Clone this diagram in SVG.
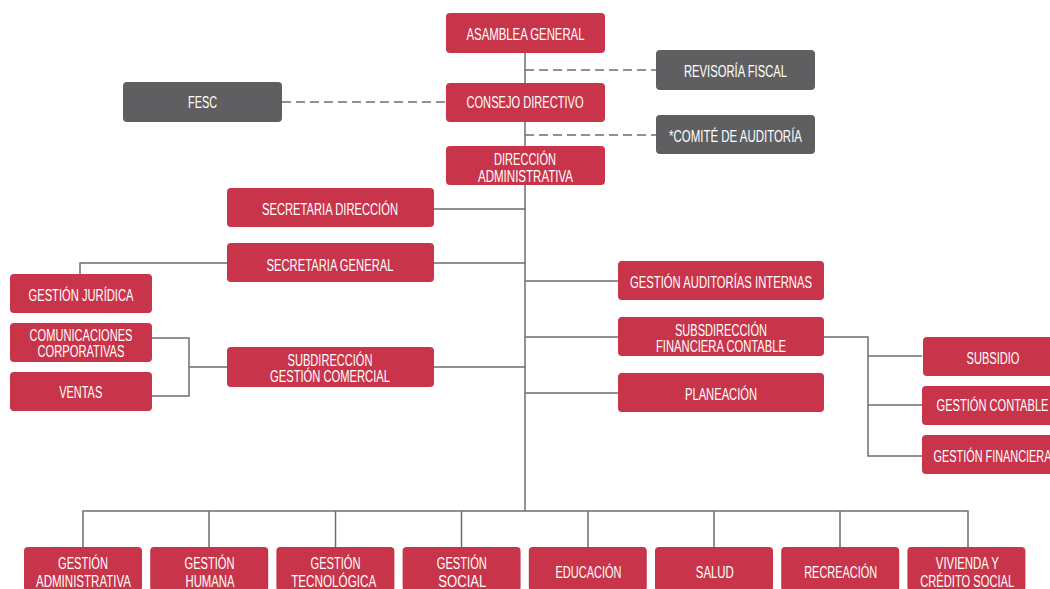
<svg xmlns="http://www.w3.org/2000/svg" width="1050" height="589" viewBox="0 0 1050 589">
<style>
.r{fill:#C8344A}
.g{fill:#5F5F61}
text{font-family:"Liberation Sans Narrow","Liberation Sans",Arial,sans-serif;font-size:16px;fill:#fff;text-anchor:middle}
.ln{stroke:#6D6E70;stroke-width:1.5;fill:none}
.ds{stroke:#6D6E70;stroke-width:1.5;fill:none;stroke-dasharray:9 5}
</style>
<rect width="1050" height="589" fill="#fff"/>
<g id="connectors">
<path class="ln" d="M525 53V511"/>
<path class="ds" d="M525 70H656M525 135H656M282 102H446"/>
<path class="ln" d="M434 209H525M80 274V263H525M434 367H525M152 338H189V396H152M189 367H227"/>
<path class="ln" d="M525 281H618M525 337H618M525 393H618M824 337H868V456H922M868 356H922M868 405H922"/>
<path class="ln" d="M83 547V511H968V547M209 511V547M335.5 511V547M461.5 511V547M588 511V547M714 511V547M840 511V547"/>
</g>
<g id="asamblea"><rect class="r" x="446" y="13" width="159" height="40" rx="4"/><text x="525.5" y="40" textLength="118" lengthAdjust="spacingAndGlyphs">ASAMBLEA GENERAL</text></g>
<g id="revisoria"><rect class="g" x="656" y="50" width="159" height="40" rx="4"/><text x="735.5" y="77.3" textLength="103" lengthAdjust="spacingAndGlyphs">REVISORÍA FISCAL</text></g>
<g id="fesc"><rect class="g" x="123" y="82" width="159" height="40" rx="4"/><text x="202.5" y="108.3" textLength="29" lengthAdjust="spacingAndGlyphs">FESC</text></g>
<g id="consejo"><rect class="r" x="446" y="83" width="159" height="39" rx="4"/><text x="525" y="108.3" textLength="117" lengthAdjust="spacingAndGlyphs">CONSEJO DIRECTIVO</text></g>
<g id="comite"><rect class="g" x="656" y="115" width="159" height="39" rx="4"/><text x="735.5" y="141.7" textLength="133" lengthAdjust="spacingAndGlyphs">*COMITÉ DE AUDITORÍA</text></g>
<g id="direccion"><rect class="r" x="446" y="146" width="159" height="39" rx="4"/><text x="525" y="164.7" textLength="62" lengthAdjust="spacingAndGlyphs">DIRECCIÓN</text><text x="525.5" y="181.7" textLength="95" lengthAdjust="spacingAndGlyphs">ADMINISTRATIVA</text></g>
<g id="secretaria-direccion"><rect class="r" x="227" y="188" width="207" height="39" rx="4"/><text x="330" y="215" textLength="136" lengthAdjust="spacingAndGlyphs">SECRETARIA DIRECCIÓN</text></g>
<g id="secretaria-general"><rect class="r" x="227" y="243" width="207" height="39" rx="4"/><text x="330" y="270.7" textLength="127" lengthAdjust="spacingAndGlyphs">SECRETARIA GENERAL</text></g>
<g id="gestion-juridica"><rect class="r" x="10" y="274" width="142" height="39" rx="4"/><text x="81" y="301" textLength="105" lengthAdjust="spacingAndGlyphs">GESTIÓN JURÍDICA</text></g>
<g id="comunicaciones"><rect class="r" x="10" y="323" width="142" height="39" rx="4"/><text x="81" y="340.7" textLength="103" lengthAdjust="spacingAndGlyphs">COMUNICACIONES</text><text x="81" y="356.7" textLength="87" lengthAdjust="spacingAndGlyphs">CORPORATIVAS</text></g>
<g id="ventas"><rect class="r" x="10" y="372" width="142" height="39" rx="4"/><text x="80.7" y="398.3" textLength="43" lengthAdjust="spacingAndGlyphs">VENTAS</text></g>
<g id="subdireccion-comercial"><rect class="r" x="227" y="347" width="207" height="40" rx="4"/><text x="330" y="365.7" textLength="85" lengthAdjust="spacingAndGlyphs">SUBDIRECCIÓN</text><text x="330" y="382.3" textLength="120" lengthAdjust="spacingAndGlyphs">GESTIÓN COMERCIAL</text></g>
<g id="auditorias"><rect class="r" x="618" y="261" width="206" height="39" rx="4"/><text x="721" y="287.7" textLength="182" lengthAdjust="spacingAndGlyphs">GESTIÓN AUDITORÍAS INTERNAS</text></g>
<g id="subdireccion-financiera"><rect class="r" x="618" y="317" width="206" height="39" rx="4"/><text x="721" y="336" textLength="92" lengthAdjust="spacingAndGlyphs">SUBSDIRECCIÓN</text><text x="721" y="352.3" textLength="130" lengthAdjust="spacingAndGlyphs">FINANCIERA CONTABLE</text></g>
<g id="planeacion"><rect class="r" x="618" y="373" width="206" height="39" rx="4"/><text x="721" y="400" textLength="72" lengthAdjust="spacingAndGlyphs">PLANEACIÓN</text></g>
<g id="subsidio"><rect class="r" x="923" y="337" width="141" height="39" rx="4"/><text x="993" y="364" textLength="53" lengthAdjust="spacingAndGlyphs">SUBSIDIO</text></g>
<g id="gestion-contable"><rect class="r" x="922" y="386" width="142" height="39" rx="4"/><text x="992.5" y="411" textLength="112" lengthAdjust="spacingAndGlyphs">GESTIÓN CONTABLE</text></g>
<g id="gestion-financiera"><rect class="r" x="922" y="435" width="142" height="39" rx="4"/><text x="992.5" y="461.7" textLength="118" lengthAdjust="spacingAndGlyphs">GESTIÓN FINANCIERA</text></g>
<g id="gestion-administrativa"><rect class="r" x="24" y="547" width="118" height="44" rx="4"/><text x="83" y="568.6" textLength="50" lengthAdjust="spacingAndGlyphs">GESTIÓN</text><text x="83.5" y="586.5" textLength="95" lengthAdjust="spacingAndGlyphs">ADMINISTRATIVA</text></g>
<g id="gestion-humana"><rect class="r" x="150.2" y="547" width="118" height="44" rx="4"/><text x="209.5" y="568.6" textLength="50" lengthAdjust="spacingAndGlyphs">GESTIÓN</text><text x="210" y="586.5" textLength="49" lengthAdjust="spacingAndGlyphs">HUMANA</text></g>
<g id="gestion-tecnologica"><rect class="r" x="276.4" y="547" width="118" height="44" rx="4"/><text x="335.5" y="568.6" textLength="50" lengthAdjust="spacingAndGlyphs">GESTIÓN</text><text x="333.7" y="586.5" textLength="85" lengthAdjust="spacingAndGlyphs">TECNOLÓGICA</text></g>
<g id="gestion-social"><rect class="r" x="402.6" y="547" width="118" height="44" rx="4"/><text x="461.8" y="568.6" textLength="50" lengthAdjust="spacingAndGlyphs">GESTIÓN</text><text x="462.3" y="586.5" textLength="48" lengthAdjust="spacingAndGlyphs">SOCIAL</text></g>
<g id="educacion"><rect class="r" x="528.8" y="547" width="118" height="44" rx="4"/><text x="588.5" y="578" textLength="66" lengthAdjust="spacingAndGlyphs">EDUCACIÓN</text></g>
<g id="salud"><rect class="r" x="655" y="547" width="118" height="44" rx="4"/><text x="714.8" y="578" textLength="38" lengthAdjust="spacingAndGlyphs">SALUD</text></g>
<g id="recreacion"><rect class="r" x="781.2" y="547" width="118" height="44" rx="4"/><text x="840.7" y="578" textLength="73" lengthAdjust="spacingAndGlyphs">RECREACIÓN</text></g>
<g id="vivienda"><rect class="r" x="907.4" y="547" width="118" height="44" rx="4"/><text x="967.3" y="568.6" textLength="63" lengthAdjust="spacingAndGlyphs">VIVIENDA Y</text><text x="967.2" y="586.5" textLength="94" lengthAdjust="spacingAndGlyphs">CRÉDITO SOCIAL</text></g>
</svg>
